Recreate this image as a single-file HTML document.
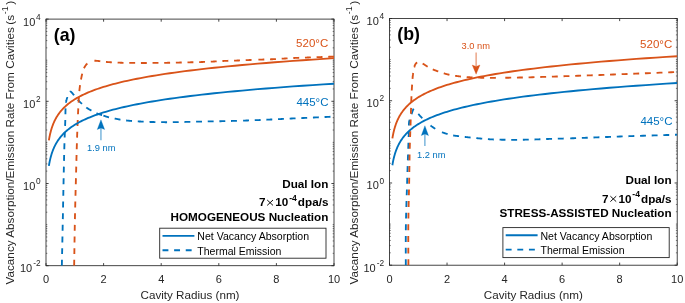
<!DOCTYPE html><html><head><meta charset="utf-8"><style>html,body{margin:0;padding:0;background:#fff;}svg{display:block;filter:blur(0.35px)}</style></head><body>
<svg width="685" height="303" viewBox="0 0 685 303" font-family='"Liberation Sans", sans-serif'>
<rect width="685" height="303" fill="#fff"/>
<clipPath id="ca"><rect x="46.0" y="19.1" width="288.0" height="246.6"/></clipPath>
<clipPath id="cb"><rect x="389.5" y="18.5" width="287.70000000000005" height="246.7"/></clipPath>
<g stroke="#262626" stroke-width="0.85" fill="none"><line x1="46.00" y1="265.7" x2="46.00" y2="263.09999999999997"/><line x1="46.00" y1="19.1" x2="46.00" y2="21.700000000000003"/><line x1="103.60" y1="265.7" x2="103.60" y2="263.09999999999997"/><line x1="103.60" y1="19.1" x2="103.60" y2="21.700000000000003"/><line x1="161.20" y1="265.7" x2="161.20" y2="263.09999999999997"/><line x1="161.20" y1="19.1" x2="161.20" y2="21.700000000000003"/><line x1="218.80" y1="265.7" x2="218.80" y2="263.09999999999997"/><line x1="218.80" y1="19.1" x2="218.80" y2="21.700000000000003"/><line x1="276.40" y1="265.7" x2="276.40" y2="263.09999999999997"/><line x1="276.40" y1="19.1" x2="276.40" y2="21.700000000000003"/><line x1="334.00" y1="265.7" x2="334.00" y2="263.09999999999997"/><line x1="334.00" y1="19.1" x2="334.00" y2="21.700000000000003"/><line x1="46.0" y1="265.70" x2="48.6" y2="265.70"/><line x1="334.0" y1="265.70" x2="331.4" y2="265.70"/><line x1="46.0" y1="183.50" x2="48.6" y2="183.50"/><line x1="334.0" y1="183.50" x2="331.4" y2="183.50"/><line x1="46.0" y1="101.30" x2="48.6" y2="101.30"/><line x1="334.0" y1="101.30" x2="331.4" y2="101.30"/><line x1="46.0" y1="19.10" x2="48.6" y2="19.10"/><line x1="334.0" y1="19.10" x2="331.4" y2="19.10"/><g stroke-width="0.6"><line x1="46.0" y1="253.33" x2="47.3" y2="253.33"/><line x1="334.0" y1="253.33" x2="332.7" y2="253.33"/><line x1="46.0" y1="246.09" x2="47.3" y2="246.09"/><line x1="334.0" y1="246.09" x2="332.7" y2="246.09"/><line x1="46.0" y1="240.96" x2="47.3" y2="240.96"/><line x1="334.0" y1="240.96" x2="332.7" y2="240.96"/><line x1="46.0" y1="236.97" x2="47.3" y2="236.97"/><line x1="334.0" y1="236.97" x2="332.7" y2="236.97"/><line x1="46.0" y1="233.72" x2="47.3" y2="233.72"/><line x1="334.0" y1="233.72" x2="332.7" y2="233.72"/><line x1="46.0" y1="230.97" x2="47.3" y2="230.97"/><line x1="334.0" y1="230.97" x2="332.7" y2="230.97"/><line x1="46.0" y1="228.58" x2="47.3" y2="228.58"/><line x1="334.0" y1="228.58" x2="332.7" y2="228.58"/><line x1="46.0" y1="226.48" x2="47.3" y2="226.48"/><line x1="334.0" y1="226.48" x2="332.7" y2="226.48"/><line x1="46.0" y1="224.60" x2="47.3" y2="224.60"/><line x1="334.0" y1="224.60" x2="332.7" y2="224.60"/><line x1="46.0" y1="212.23" x2="47.3" y2="212.23"/><line x1="334.0" y1="212.23" x2="332.7" y2="212.23"/><line x1="46.0" y1="204.99" x2="47.3" y2="204.99"/><line x1="334.0" y1="204.99" x2="332.7" y2="204.99"/><line x1="46.0" y1="199.86" x2="47.3" y2="199.86"/><line x1="334.0" y1="199.86" x2="332.7" y2="199.86"/><line x1="46.0" y1="195.87" x2="47.3" y2="195.87"/><line x1="334.0" y1="195.87" x2="332.7" y2="195.87"/><line x1="46.0" y1="192.62" x2="47.3" y2="192.62"/><line x1="334.0" y1="192.62" x2="332.7" y2="192.62"/><line x1="46.0" y1="189.87" x2="47.3" y2="189.87"/><line x1="334.0" y1="189.87" x2="332.7" y2="189.87"/><line x1="46.0" y1="187.48" x2="47.3" y2="187.48"/><line x1="334.0" y1="187.48" x2="332.7" y2="187.48"/><line x1="46.0" y1="185.38" x2="47.3" y2="185.38"/><line x1="334.0" y1="185.38" x2="332.7" y2="185.38"/><line x1="46.0" y1="171.13" x2="47.3" y2="171.13"/><line x1="334.0" y1="171.13" x2="332.7" y2="171.13"/><line x1="46.0" y1="163.89" x2="47.3" y2="163.89"/><line x1="334.0" y1="163.89" x2="332.7" y2="163.89"/><line x1="46.0" y1="158.76" x2="47.3" y2="158.76"/><line x1="334.0" y1="158.76" x2="332.7" y2="158.76"/><line x1="46.0" y1="154.77" x2="47.3" y2="154.77"/><line x1="334.0" y1="154.77" x2="332.7" y2="154.77"/><line x1="46.0" y1="151.52" x2="47.3" y2="151.52"/><line x1="334.0" y1="151.52" x2="332.7" y2="151.52"/><line x1="46.0" y1="148.77" x2="47.3" y2="148.77"/><line x1="334.0" y1="148.77" x2="332.7" y2="148.77"/><line x1="46.0" y1="146.38" x2="47.3" y2="146.38"/><line x1="334.0" y1="146.38" x2="332.7" y2="146.38"/><line x1="46.0" y1="144.28" x2="47.3" y2="144.28"/><line x1="334.0" y1="144.28" x2="332.7" y2="144.28"/><line x1="46.0" y1="142.40" x2="47.3" y2="142.40"/><line x1="334.0" y1="142.40" x2="332.7" y2="142.40"/><line x1="46.0" y1="130.03" x2="47.3" y2="130.03"/><line x1="334.0" y1="130.03" x2="332.7" y2="130.03"/><line x1="46.0" y1="122.79" x2="47.3" y2="122.79"/><line x1="334.0" y1="122.79" x2="332.7" y2="122.79"/><line x1="46.0" y1="117.66" x2="47.3" y2="117.66"/><line x1="334.0" y1="117.66" x2="332.7" y2="117.66"/><line x1="46.0" y1="113.67" x2="47.3" y2="113.67"/><line x1="334.0" y1="113.67" x2="332.7" y2="113.67"/><line x1="46.0" y1="110.42" x2="47.3" y2="110.42"/><line x1="334.0" y1="110.42" x2="332.7" y2="110.42"/><line x1="46.0" y1="107.67" x2="47.3" y2="107.67"/><line x1="334.0" y1="107.67" x2="332.7" y2="107.67"/><line x1="46.0" y1="105.28" x2="47.3" y2="105.28"/><line x1="334.0" y1="105.28" x2="332.7" y2="105.28"/><line x1="46.0" y1="103.18" x2="47.3" y2="103.18"/><line x1="334.0" y1="103.18" x2="332.7" y2="103.18"/><line x1="46.0" y1="88.93" x2="47.3" y2="88.93"/><line x1="334.0" y1="88.93" x2="332.7" y2="88.93"/><line x1="46.0" y1="81.69" x2="47.3" y2="81.69"/><line x1="334.0" y1="81.69" x2="332.7" y2="81.69"/><line x1="46.0" y1="76.56" x2="47.3" y2="76.56"/><line x1="334.0" y1="76.56" x2="332.7" y2="76.56"/><line x1="46.0" y1="72.57" x2="47.3" y2="72.57"/><line x1="334.0" y1="72.57" x2="332.7" y2="72.57"/><line x1="46.0" y1="69.32" x2="47.3" y2="69.32"/><line x1="334.0" y1="69.32" x2="332.7" y2="69.32"/><line x1="46.0" y1="66.57" x2="47.3" y2="66.57"/><line x1="334.0" y1="66.57" x2="332.7" y2="66.57"/><line x1="46.0" y1="64.18" x2="47.3" y2="64.18"/><line x1="334.0" y1="64.18" x2="332.7" y2="64.18"/><line x1="46.0" y1="62.08" x2="47.3" y2="62.08"/><line x1="334.0" y1="62.08" x2="332.7" y2="62.08"/><line x1="46.0" y1="60.20" x2="47.3" y2="60.20"/><line x1="334.0" y1="60.20" x2="332.7" y2="60.20"/><line x1="46.0" y1="47.83" x2="47.3" y2="47.83"/><line x1="334.0" y1="47.83" x2="332.7" y2="47.83"/><line x1="46.0" y1="40.59" x2="47.3" y2="40.59"/><line x1="334.0" y1="40.59" x2="332.7" y2="40.59"/><line x1="46.0" y1="35.46" x2="47.3" y2="35.46"/><line x1="334.0" y1="35.46" x2="332.7" y2="35.46"/><line x1="46.0" y1="31.47" x2="47.3" y2="31.47"/><line x1="334.0" y1="31.47" x2="332.7" y2="31.47"/><line x1="46.0" y1="28.22" x2="47.3" y2="28.22"/><line x1="334.0" y1="28.22" x2="332.7" y2="28.22"/><line x1="46.0" y1="25.47" x2="47.3" y2="25.47"/><line x1="334.0" y1="25.47" x2="332.7" y2="25.47"/><line x1="46.0" y1="23.08" x2="47.3" y2="23.08"/><line x1="334.0" y1="23.08" x2="332.7" y2="23.08"/><line x1="46.0" y1="20.98" x2="47.3" y2="20.98"/><line x1="334.0" y1="20.98" x2="332.7" y2="20.98"/></g><rect x="46.0" y="19.1" width="288.00" height="246.60"/></g>
<g stroke="#262626" stroke-width="0.85" fill="none"><line x1="389.50" y1="265.2" x2="389.50" y2="262.59999999999997"/><line x1="389.50" y1="18.5" x2="389.50" y2="21.1"/><line x1="447.04" y1="265.2" x2="447.04" y2="262.59999999999997"/><line x1="447.04" y1="18.5" x2="447.04" y2="21.1"/><line x1="504.58" y1="265.2" x2="504.58" y2="262.59999999999997"/><line x1="504.58" y1="18.5" x2="504.58" y2="21.1"/><line x1="562.12" y1="265.2" x2="562.12" y2="262.59999999999997"/><line x1="562.12" y1="18.5" x2="562.12" y2="21.1"/><line x1="619.66" y1="265.2" x2="619.66" y2="262.59999999999997"/><line x1="619.66" y1="18.5" x2="619.66" y2="21.1"/><line x1="677.20" y1="265.2" x2="677.20" y2="262.59999999999997"/><line x1="677.20" y1="18.5" x2="677.20" y2="21.1"/><line x1="389.5" y1="265.20" x2="392.1" y2="265.20"/><line x1="677.2" y1="265.20" x2="674.6" y2="265.20"/><line x1="389.5" y1="182.97" x2="392.1" y2="182.97"/><line x1="677.2" y1="182.97" x2="674.6" y2="182.97"/><line x1="389.5" y1="100.73" x2="392.1" y2="100.73"/><line x1="677.2" y1="100.73" x2="674.6" y2="100.73"/><line x1="389.5" y1="18.50" x2="392.1" y2="18.50"/><line x1="677.2" y1="18.50" x2="674.6" y2="18.50"/><g stroke-width="0.6"><line x1="389.5" y1="252.82" x2="390.8" y2="252.82"/><line x1="677.2" y1="252.82" x2="675.9000000000001" y2="252.82"/><line x1="389.5" y1="245.58" x2="390.8" y2="245.58"/><line x1="677.2" y1="245.58" x2="675.9000000000001" y2="245.58"/><line x1="389.5" y1="240.45" x2="390.8" y2="240.45"/><line x1="677.2" y1="240.45" x2="675.9000000000001" y2="240.45"/><line x1="389.5" y1="236.46" x2="390.8" y2="236.46"/><line x1="677.2" y1="236.46" x2="675.9000000000001" y2="236.46"/><line x1="389.5" y1="233.21" x2="390.8" y2="233.21"/><line x1="677.2" y1="233.21" x2="675.9000000000001" y2="233.21"/><line x1="389.5" y1="230.45" x2="390.8" y2="230.45"/><line x1="677.2" y1="230.45" x2="675.9000000000001" y2="230.45"/><line x1="389.5" y1="228.07" x2="390.8" y2="228.07"/><line x1="677.2" y1="228.07" x2="675.9000000000001" y2="228.07"/><line x1="389.5" y1="225.96" x2="390.8" y2="225.96"/><line x1="677.2" y1="225.96" x2="675.9000000000001" y2="225.96"/><line x1="389.5" y1="224.08" x2="390.8" y2="224.08"/><line x1="677.2" y1="224.08" x2="675.9000000000001" y2="224.08"/><line x1="389.5" y1="211.71" x2="390.8" y2="211.71"/><line x1="677.2" y1="211.71" x2="675.9000000000001" y2="211.71"/><line x1="389.5" y1="204.47" x2="390.8" y2="204.47"/><line x1="677.2" y1="204.47" x2="675.9000000000001" y2="204.47"/><line x1="389.5" y1="199.33" x2="390.8" y2="199.33"/><line x1="677.2" y1="199.33" x2="675.9000000000001" y2="199.33"/><line x1="389.5" y1="195.34" x2="390.8" y2="195.34"/><line x1="677.2" y1="195.34" x2="675.9000000000001" y2="195.34"/><line x1="389.5" y1="192.09" x2="390.8" y2="192.09"/><line x1="677.2" y1="192.09" x2="675.9000000000001" y2="192.09"/><line x1="389.5" y1="189.34" x2="390.8" y2="189.34"/><line x1="677.2" y1="189.34" x2="675.9000000000001" y2="189.34"/><line x1="389.5" y1="186.95" x2="390.8" y2="186.95"/><line x1="677.2" y1="186.95" x2="675.9000000000001" y2="186.95"/><line x1="389.5" y1="184.85" x2="390.8" y2="184.85"/><line x1="677.2" y1="184.85" x2="675.9000000000001" y2="184.85"/><line x1="389.5" y1="170.59" x2="390.8" y2="170.59"/><line x1="677.2" y1="170.59" x2="675.9000000000001" y2="170.59"/><line x1="389.5" y1="163.35" x2="390.8" y2="163.35"/><line x1="677.2" y1="163.35" x2="675.9000000000001" y2="163.35"/><line x1="389.5" y1="158.21" x2="390.8" y2="158.21"/><line x1="677.2" y1="158.21" x2="675.9000000000001" y2="158.21"/><line x1="389.5" y1="154.23" x2="390.8" y2="154.23"/><line x1="677.2" y1="154.23" x2="675.9000000000001" y2="154.23"/><line x1="389.5" y1="150.97" x2="390.8" y2="150.97"/><line x1="677.2" y1="150.97" x2="675.9000000000001" y2="150.97"/><line x1="389.5" y1="148.22" x2="390.8" y2="148.22"/><line x1="677.2" y1="148.22" x2="675.9000000000001" y2="148.22"/><line x1="389.5" y1="145.83" x2="390.8" y2="145.83"/><line x1="677.2" y1="145.83" x2="675.9000000000001" y2="145.83"/><line x1="389.5" y1="143.73" x2="390.8" y2="143.73"/><line x1="677.2" y1="143.73" x2="675.9000000000001" y2="143.73"/><line x1="389.5" y1="141.85" x2="390.8" y2="141.85"/><line x1="677.2" y1="141.85" x2="675.9000000000001" y2="141.85"/><line x1="389.5" y1="129.47" x2="390.8" y2="129.47"/><line x1="677.2" y1="129.47" x2="675.9000000000001" y2="129.47"/><line x1="389.5" y1="122.23" x2="390.8" y2="122.23"/><line x1="677.2" y1="122.23" x2="675.9000000000001" y2="122.23"/><line x1="389.5" y1="117.10" x2="390.8" y2="117.10"/><line x1="677.2" y1="117.10" x2="675.9000000000001" y2="117.10"/><line x1="389.5" y1="113.11" x2="390.8" y2="113.11"/><line x1="677.2" y1="113.11" x2="675.9000000000001" y2="113.11"/><line x1="389.5" y1="109.86" x2="390.8" y2="109.86"/><line x1="677.2" y1="109.86" x2="675.9000000000001" y2="109.86"/><line x1="389.5" y1="107.10" x2="390.8" y2="107.10"/><line x1="677.2" y1="107.10" x2="675.9000000000001" y2="107.10"/><line x1="389.5" y1="104.72" x2="390.8" y2="104.72"/><line x1="677.2" y1="104.72" x2="675.9000000000001" y2="104.72"/><line x1="389.5" y1="102.61" x2="390.8" y2="102.61"/><line x1="677.2" y1="102.61" x2="675.9000000000001" y2="102.61"/><line x1="389.5" y1="88.36" x2="390.8" y2="88.36"/><line x1="677.2" y1="88.36" x2="675.9000000000001" y2="88.36"/><line x1="389.5" y1="81.12" x2="390.8" y2="81.12"/><line x1="677.2" y1="81.12" x2="675.9000000000001" y2="81.12"/><line x1="389.5" y1="75.98" x2="390.8" y2="75.98"/><line x1="677.2" y1="75.98" x2="675.9000000000001" y2="75.98"/><line x1="389.5" y1="71.99" x2="390.8" y2="71.99"/><line x1="677.2" y1="71.99" x2="675.9000000000001" y2="71.99"/><line x1="389.5" y1="68.74" x2="390.8" y2="68.74"/><line x1="677.2" y1="68.74" x2="675.9000000000001" y2="68.74"/><line x1="389.5" y1="65.99" x2="390.8" y2="65.99"/><line x1="677.2" y1="65.99" x2="675.9000000000001" y2="65.99"/><line x1="389.5" y1="63.60" x2="390.8" y2="63.60"/><line x1="677.2" y1="63.60" x2="675.9000000000001" y2="63.60"/><line x1="389.5" y1="61.50" x2="390.8" y2="61.50"/><line x1="677.2" y1="61.50" x2="675.9000000000001" y2="61.50"/><line x1="389.5" y1="59.62" x2="390.8" y2="59.62"/><line x1="677.2" y1="59.62" x2="675.9000000000001" y2="59.62"/><line x1="389.5" y1="47.24" x2="390.8" y2="47.24"/><line x1="677.2" y1="47.24" x2="675.9000000000001" y2="47.24"/><line x1="389.5" y1="40.00" x2="390.8" y2="40.00"/><line x1="677.2" y1="40.00" x2="675.9000000000001" y2="40.00"/><line x1="389.5" y1="34.86" x2="390.8" y2="34.86"/><line x1="677.2" y1="34.86" x2="675.9000000000001" y2="34.86"/><line x1="389.5" y1="30.88" x2="390.8" y2="30.88"/><line x1="677.2" y1="30.88" x2="675.9000000000001" y2="30.88"/><line x1="389.5" y1="27.62" x2="390.8" y2="27.62"/><line x1="677.2" y1="27.62" x2="675.9000000000001" y2="27.62"/><line x1="389.5" y1="24.87" x2="390.8" y2="24.87"/><line x1="677.2" y1="24.87" x2="675.9000000000001" y2="24.87"/><line x1="389.5" y1="22.48" x2="390.8" y2="22.48"/><line x1="677.2" y1="22.48" x2="675.9000000000001" y2="22.48"/><line x1="389.5" y1="20.38" x2="390.8" y2="20.38"/><line x1="677.2" y1="20.38" x2="675.9000000000001" y2="20.38"/></g><rect x="389.5" y="18.5" width="287.70" height="246.70"/></g>
<g clip-path="url(#ca)">
<path d="M61.85,265.70 L61.87,264.79 L61.89,263.75 L61.92,262.59 L61.94,261.32 L61.97,259.95 L61.97,259.80 M62.09,254.05 L62.10,253.61 L62.14,251.84 L62.18,250.03 L62.22,248.16 L62.22,248.15 M62.34,242.41 L62.34,242.37 L62.38,240.39 L62.42,238.41 L62.46,236.51 M62.58,230.76 L62.59,230.57 L62.62,228.67 L62.66,226.81 L62.70,225.00 L62.70,224.86 M62.82,219.11 L62.85,217.63 L62.89,215.73 L62.92,213.82 L62.94,213.21 M63.05,207.46 L63.08,206.05 L63.11,204.10 L63.15,202.14 L63.16,201.56 M63.28,195.81 L63.31,194.42 L63.34,192.52 L63.38,190.65 L63.40,189.92 M63.51,184.17 L63.53,183.41 L63.56,181.69 L63.60,180.00 L63.64,178.34 L63.64,178.27 M63.76,172.52 L63.77,171.88 L63.80,170.31 L63.84,168.76 L63.87,167.22 L63.88,166.62 M64.01,160.87 L64.03,159.80 L64.06,158.37 L64.10,156.95 L64.13,155.56 L64.14,154.97 M64.29,149.23 L64.30,148.83 L64.33,147.53 L64.36,146.26 L64.40,145.00 L64.44,143.75 L64.45,143.33 M64.64,137.58 L64.68,136.52 L64.72,135.37 L64.76,134.23 L64.80,133.11 L64.85,132.02 L64.86,131.69 M65.08,125.94 L65.09,125.89 L65.12,124.96 L65.16,124.06 L65.19,123.18 L65.22,122.34 L65.25,121.53 L65.28,120.75 L65.30,120.04 M65.42,114.29 L65.42,114.27 L65.42,113.91 L65.43,113.56 L65.43,113.23 L65.43,112.91 L65.44,112.59 L65.44,112.28 L65.45,111.97 L65.45,111.66 L65.46,111.35 L65.47,111.03 L65.48,110.70 L65.49,110.36 L65.50,110.00 L65.51,109.64 L65.53,109.28 L65.54,108.93 L65.56,108.58 L65.57,108.40 M65.98,102.66 L66.00,102.50 L66.04,102.24 L66.07,101.99 L66.12,101.75 L66.16,101.51 L66.20,101.28 L66.25,101.05 L66.29,100.83 L66.34,100.61 L66.39,100.40 L66.44,100.19 L66.49,99.98 L66.54,99.78 L66.60,99.58 L66.65,99.39 L66.70,99.19 L66.76,99.00 L66.81,98.81 L66.87,98.62 L66.92,98.43 L66.98,98.25 L67.04,98.06 L67.09,97.87 L67.15,97.69 L67.20,97.50 L67.25,97.31 L67.31,97.12 L67.36,96.94 L67.36,96.94 M69.84,91.83 L69.87,91.81 L69.94,91.76 L70.01,91.71 L70.09,91.67 L70.16,91.64 L70.23,91.62 L70.30,91.60 L70.37,91.59 L70.44,91.59 L70.51,91.59 L70.58,91.61 L70.65,91.63 L70.72,91.65 L70.79,91.69 L70.86,91.73 L70.92,91.77 L70.99,91.82 L71.06,91.87 L71.13,91.93 L71.20,91.99 L71.27,92.06 L71.34,92.13 L71.41,92.20 L71.48,92.27 L71.55,92.34 L71.63,92.42 L71.70,92.49 L71.77,92.57 L71.85,92.65 L71.92,92.72 L72.00,92.80 L72.07,92.87 L72.14,92.94 L72.21,93.01 L72.27,93.08 L72.33,93.15 L72.39,93.22 L72.45,93.29 L72.50,93.36 L72.56,93.43 L72.62,93.50 L72.68,93.58 L72.74,93.66 L72.81,93.75 L72.88,93.84 L72.96,93.94 L73.04,94.04 L73.13,94.16 L73.23,94.28 L73.33,94.41 L73.44,94.54 L73.57,94.69 L73.70,94.85 L73.84,95.02 L74.00,95.20 L74.06,95.27 M77.79,99.66 L77.91,99.80 L78.18,100.10 L78.45,100.40 L78.73,100.69 L79.00,100.98 L79.27,101.26 L79.53,101.53 L79.80,101.80 L80.07,102.06 L80.34,102.32 L80.62,102.59 L80.90,102.86 L81.19,103.12 L81.49,103.39 L81.78,103.65 L81.96,103.82 M86.40,107.47 L86.44,107.51 L86.70,107.70 L86.95,107.89 L87.20,108.06 L87.44,108.23 L87.68,108.40 L87.92,108.55 L88.15,108.71 L88.37,108.85 L88.60,108.99 L88.82,109.13 L89.04,109.26 L89.26,109.39 L89.48,109.51 L89.69,109.63 L89.90,109.75 L90.11,109.87 L90.32,109.99 L90.53,110.10 L90.74,110.21 L90.95,110.33 L91.16,110.44 L91.37,110.55 L91.41,110.57 M96.50,113.23 L96.67,113.30 L96.90,113.40 L97.14,113.50 L97.39,113.60 L97.64,113.69 L97.90,113.79 L98.17,113.89 L98.44,113.98 L98.71,114.08 L98.99,114.17 L99.27,114.27 L99.55,114.36 L99.83,114.46 L100.12,114.55 L100.40,114.64 L100.69,114.73 L100.97,114.82 L101.26,114.91 L101.54,115.00 L101.81,115.09 L102.07,115.17 M103.40,115.60 L103.40,115.60 L103.65,115.68 L103.89,115.76 L104.12,115.84 L104.35,115.92 L104.58,115.99 L104.80,116.07 L105.03,116.14 L105.24,116.22 L105.46,116.29 L105.68,116.36 L105.89,116.44 L106.11,116.51 L106.32,116.58 L106.53,116.65 L106.75,116.71 L106.97,116.78 L107.18,116.85 L107.41,116.91 L107.63,116.98 L107.85,117.05 L108.08,117.11 L108.32,117.17 L108.56,117.24 L108.80,117.30 L109.03,117.36 M114.67,118.49 L114.71,118.50 L114.96,118.55 L115.20,118.60 L115.43,118.65 L115.66,118.69 L115.88,118.74 L116.10,118.79 L116.31,118.83 L116.52,118.87 L116.72,118.92 L116.92,118.96 L117.12,119.00 L117.31,119.04 L117.51,119.08 L117.70,119.12 L117.89,119.17 L118.09,119.21 L118.28,119.25 L118.48,119.29 L118.68,119.32 L118.88,119.36 L119.09,119.40 L119.30,119.44 L119.52,119.48 L119.74,119.52 L119.97,119.56 L120.20,119.60 L120.44,119.64 L120.45,119.64 M126.15,120.45 L126.35,120.47 L126.60,120.50 L126.85,120.53 L127.09,120.56 L127.33,120.58 L127.56,120.61 L127.80,120.63 L128.03,120.66 L128.26,120.68 L128.49,120.70 L128.71,120.72 L128.94,120.74 L129.16,120.76 L129.38,120.78 L129.60,120.80 L129.83,120.82 L130.05,120.84 L130.27,120.86 L130.49,120.87 L130.72,120.89 L130.94,120.91 L131.17,120.93 L131.40,120.95 L131.63,120.96 L131.86,120.98 L132.02,120.99 M137.76,121.39 L138.00,121.40 L138.25,121.41 L138.49,121.43 L138.73,121.44 L138.97,121.46 L139.21,121.47 L139.45,121.48 L139.68,121.49 L139.92,121.51 L140.15,121.52 L140.39,121.53 L140.63,121.54 L140.87,121.56 L141.11,121.57 L141.35,121.58 L141.60,121.59 L141.85,121.60 L142.10,121.62 L142.36,121.63 L142.62,121.64 L142.88,121.65 L143.15,121.66 L143.43,121.68 L143.65,121.68 M149.50,121.93 L149.60,121.93 L149.97,121.94 L150.35,121.96 L150.75,121.97 L151.15,121.98 L151.57,121.99 L152.00,122.00 L152.45,122.01 L152.91,122.02 L153.40,122.03 L153.90,122.04 L154.42,122.05 L154.95,122.06 L155.40,122.07 M161.15,122.17 L161.20,122.17 L161.77,122.17 L162.34,122.18 L162.89,122.19 L163.44,122.19 L163.97,122.19 L164.49,122.20 L165.00,122.20 L165.50,122.20 L165.98,122.20 L166.46,122.20 L166.94,122.20 L167.05,122.20 M172.80,122.15 L173.23,122.14 L173.68,122.13 L174.13,122.13 L174.59,122.12 L175.05,122.11 L175.52,122.11 L176.00,122.10 L176.48,122.09 L176.96,122.09 L177.45,122.08 L177.94,122.07 L178.43,122.07 L178.70,122.06 M184.45,121.97 L184.47,121.97 L184.98,121.96 L185.48,121.95 L185.99,121.94 L186.49,121.93 L187.00,121.92 L187.50,121.91 L188.00,121.90 L188.49,121.89 L188.94,121.88 L189.38,121.87 L189.79,121.86 L190.19,121.85 L190.34,121.85 M196.09,121.69 L196.32,121.68 L196.96,121.67 L197.64,121.65 L198.37,121.64 L199.16,121.62 L200.00,121.60 L200.91,121.58 L201.87,121.56 L201.99,121.56 M207.74,121.45 L208.67,121.44 L209.93,121.41 L211.22,121.39 L212.54,121.37 L213.64,121.35 M219.39,121.24 L220.71,121.21 L222.08,121.19 L223.44,121.16 L224.79,121.13 L225.29,121.12 M231.03,120.97 L231.25,120.97 L232.50,120.93 L233.75,120.90 L235.00,120.86 L236.25,120.82 L236.93,120.80 M243.10,120.61 L243.75,120.59 L245.00,120.55 L246.25,120.51 L247.50,120.47 L248.75,120.42 L249.00,120.41 M254.74,120.20 L255.00,120.19 L256.25,120.15 L257.50,120.10 L258.75,120.05 L260.00,120.00 L260.64,119.97 M266.38,119.73 L267.17,119.69 L268.33,119.64 L269.48,119.59 L270.63,119.53 L271.79,119.48 L272.28,119.45 M278.02,119.17 L278.96,119.13 L280.23,119.06 L281.52,119.00 L282.84,118.94 L283.91,118.89 M289.66,118.62 L290.00,118.60 L291.60,118.53 L293.32,118.45 L295.13,118.37 L295.55,118.35 M301.29,118.08 L303.13,118.00 L305.26,117.90 L307.19,117.82 M312.93,117.56 L313.88,117.51 L316.00,117.42 L318.08,117.32 L318.83,117.29 M324.57,117.03 L325.77,116.97 L327.47,116.90 L329.05,116.82 L330.46,116.76" fill="none" stroke="#0072BD" stroke-width="1.85" stroke-linejoin="round"/>
<path d="M74.15,265.70 L74.17,264.67 L74.19,263.47 L74.21,262.14 L74.23,260.66 L74.24,259.80 M74.33,254.05 L74.34,253.64 L74.37,251.66 L74.40,249.61 L74.42,248.15 M74.51,242.40 L74.53,240.95 L74.57,238.73 L74.60,236.50 L74.60,236.50 M74.70,230.75 L74.71,229.93 L74.75,227.82 L74.79,225.75 L74.81,224.86 M74.92,219.11 L74.94,218.22 L74.97,216.47 L75.01,214.73 L75.05,213.21 M75.18,207.46 L75.21,206.24 L75.25,204.58 L75.29,202.93 L75.33,201.56 M75.48,195.81 L75.51,194.75 L75.55,193.12 L75.59,191.49 L75.64,189.92 M75.79,184.17 L75.81,183.32 L75.86,181.66 L75.90,180.00 L75.94,178.33 L75.95,178.27 M76.09,172.52 L76.12,171.49 L76.17,169.77 L76.21,168.03 L76.25,166.62 M76.40,160.88 L76.44,159.38 L76.48,157.66 L76.53,155.96 L76.56,154.98 M76.72,149.23 L76.76,147.68 L76.81,146.09 L76.86,144.52 L76.89,143.33 M77.08,137.59 L77.10,137.12 L77.14,135.71 L77.19,134.31 L77.24,132.93 L77.29,131.69 M77.50,125.94 L77.54,125.03 L77.59,123.77 L77.64,122.54 L77.69,121.31 L77.74,120.11 L77.74,120.05 M77.99,114.30 L78.04,113.22 L78.10,112.13 L78.15,111.06 L78.20,110.00 L78.25,108.96 L78.28,108.41 M78.56,102.67 L78.59,102.27 L78.63,101.39 L78.68,100.52 L78.73,99.67 L78.78,98.83 L78.82,98.01 L78.88,97.20 L78.90,96.78 M79.35,91.05 L79.42,90.33 L79.50,89.60 L79.58,88.88 L79.66,88.16 L79.75,87.46 L79.83,86.77 L79.92,86.08 L80.02,85.41 L80.05,85.19 M80.99,79.51 L81.04,79.23 L81.15,78.67 L81.26,78.12 L81.37,77.59 L81.48,77.07 L81.58,76.56 L81.69,76.06 L81.80,75.57 L81.90,75.10 L82.00,74.64 L82.11,74.20 L82.21,73.77 L82.21,73.74 M83.97,68.28 L83.98,68.26 L84.11,67.99 L84.23,67.73 L84.36,67.46 L84.50,67.20 L84.64,66.94 L84.78,66.69 L84.93,66.44 L85.09,66.19 L85.24,65.96 L85.40,65.72 L85.56,65.50 L85.73,65.28 L85.90,65.06 L86.07,64.85 L86.24,64.65 L86.41,64.45 L86.59,64.26 L86.76,64.07 L86.94,63.89 L87.11,63.71 L87.29,63.54 L87.35,63.49 M94.40,60.75 L94.44,60.75 L94.59,60.75 L94.74,60.74 L94.90,60.74 L95.07,60.75 L95.24,60.75 L95.41,60.75 L95.59,60.76 L95.78,60.77 L95.98,60.78 L96.19,60.79 L96.40,60.80 L96.62,60.81 L96.86,60.83 L97.10,60.85 L97.34,60.88 L97.60,60.90 L97.86,60.93 L98.13,60.97 L98.40,61.00 L98.68,61.04 L98.96,61.07 L99.24,61.11 L99.53,61.15 L99.82,61.19 L100.11,61.23 L100.27,61.25 M105.98,61.91 L106.06,61.92 L106.32,61.94 L106.58,61.97 L106.85,61.99 L107.12,62.01 L107.40,62.04 L107.68,62.06 L107.98,62.08 L108.28,62.11 L108.59,62.13 L108.92,62.15 L109.25,62.18 L109.60,62.20 L109.96,62.22 L110.34,62.25 L110.72,62.27 L111.12,62.29 L111.54,62.32 L111.87,62.33 M117.61,62.61 L117.83,62.62 L118.28,62.64 L118.72,62.65 L119.16,62.67 L119.58,62.68 L120.00,62.70 L120.39,62.71 L120.75,62.73 L121.08,62.74 L121.38,62.75 L121.66,62.76 L121.92,62.78 L122.18,62.79 L122.42,62.80 L122.67,62.81 L122.91,62.81 L123.17,62.82 L123.44,62.83 L123.51,62.83 M129.26,62.90 L129.40,62.90 L130.27,62.90 L131.21,62.91 L132.21,62.91 L133.28,62.92 L134.40,62.92 L135.16,62.93 M140.90,62.95 L142.03,62.95 L143.41,62.95 L144.81,62.95 L146.22,62.95 L146.80,62.95 M152.55,62.94 L153.30,62.94 L154.69,62.94 L156.06,62.93 L157.40,62.92 L158.45,62.91 M164.20,62.85 L165.24,62.83 L166.60,62.81 L167.96,62.79 L169.34,62.76 L170.10,62.75 M175.85,62.63 L176.16,62.62 L177.49,62.59 L178.81,62.56 L180.09,62.53 L181.36,62.50 L181.75,62.49 M187.49,62.36 L188.13,62.34 L189.09,62.32 L190.00,62.30 L190.84,62.28 L191.63,62.27 L192.36,62.25 L193.04,62.23 L193.39,62.23 M199.14,62.09 L199.42,62.08 L199.81,62.07 L200.21,62.06 L200.62,62.05 L201.06,62.03 L201.51,62.02 L202.00,62.00 L202.50,61.98 L203.00,61.97 L203.51,61.95 L204.01,61.93 L204.52,61.91 L205.02,61.89 L205.04,61.89 M210.78,61.65 L211.07,61.64 L211.57,61.61 L212.06,61.59 L212.55,61.57 L213.04,61.55 L213.52,61.52 L214.00,61.50 L214.48,61.48 L214.95,61.45 L215.41,61.43 L215.87,61.40 L216.32,61.38 L216.68,61.36 M222.42,61.02 L222.59,61.01 L223.06,60.99 L223.54,60.97 L224.02,60.94 L224.50,60.92 L225.00,60.90 L225.50,60.88 L226.02,60.86 L226.54,60.84 L227.06,60.82 L227.59,60.81 L228.13,60.79 L228.31,60.78 M234.06,60.62 L234.22,60.62 L234.77,60.60 L235.32,60.59 L235.87,60.57 L236.41,60.55 L236.95,60.54 L237.48,60.52 L238.00,60.50 L238.52,60.48 L239.04,60.46 L239.55,60.44 L239.96,60.43 M245.70,60.18 L246.11,60.16 L246.60,60.14 L247.09,60.12 L247.58,60.10 L248.07,60.08 L248.55,60.06 L249.04,60.04 L249.52,60.02 L250.00,60.00 L250.48,59.98 L250.95,59.96 L251.42,59.95 L251.59,59.94 M258.40,59.69 L258.66,59.68 L259.12,59.67 L259.58,59.65 L260.05,59.63 L260.52,59.62 L261.00,59.60 L261.48,59.58 L261.96,59.57 L262.45,59.55 L262.94,59.54 L263.43,59.52 L263.93,59.51 L264.30,59.50 M270.04,59.32 L270.48,59.30 L270.99,59.28 L271.49,59.26 L272.00,59.24 L272.50,59.22 L273.00,59.20 L273.50,59.18 L274.00,59.15 L274.51,59.13 L275.01,59.10 L275.52,59.07 L275.94,59.05 M281.68,58.70 L282.07,58.68 L282.57,58.64 L283.06,58.61 L283.55,58.58 L284.04,58.56 L284.52,58.53 L285.00,58.50 L285.48,58.47 L285.95,58.45 L286.42,58.42 L286.88,58.39 L287.34,58.37 L287.57,58.35 M293.31,58.03 L293.66,58.01 L294.12,57.99 L294.58,57.96 L295.05,57.94 L295.52,57.92 L296.00,57.90 L296.47,57.88 L296.92,57.86 L297.36,57.84 L297.78,57.83 L298.19,57.81 L298.60,57.80 L299.01,57.78 L299.20,57.78 M304.95,57.60 L305.18,57.59 L305.82,57.57 L306.51,57.55 L307.23,57.53 L308.00,57.50 L308.84,57.47 L309.76,57.44 L310.76,57.41 L310.85,57.40 M316.59,57.20 L317.87,57.16 L319.16,57.11 L320.45,57.07 L321.75,57.02 L322.49,57.00 M328.24,56.80 L329.00,56.77 L330.04,56.74 L331.01,56.70 L331.90,56.67 L332.70,56.65 L333.40,56.62 L334.00,56.60" fill="none" stroke="#D95319" stroke-width="1.85" stroke-linejoin="round"/>
<path d="M48.88,165.90 L48.99,165.22 L49.11,164.53 L49.23,163.85 L49.36,163.16 L49.49,162.48 L49.63,161.79 L49.77,161.11 L49.91,160.42 L50.07,159.74 L50.23,159.05 L50.39,158.37 L50.56,157.68 L50.74,157.00 L50.93,156.31 L51.12,155.63 L51.32,154.94 L51.53,154.26 L51.75,153.57 L51.97,152.89 L52.20,152.20 L52.45,151.52 L52.70,150.83 L52.96,150.15 L53.23,149.46 L53.52,148.78 L53.81,148.09 L54.12,147.41 L54.43,146.72 L54.76,146.04 L55.11,145.35 L55.46,144.67 L55.83,143.98 L56.22,143.30 L56.62,142.61 L57.03,141.93 L57.47,141.24 L57.91,140.56 L58.38,139.87 L58.86,139.19 L59.37,138.50 L59.89,137.82 L60.43,137.13 L61.00,136.45 L61.59,135.76 L62.20,135.08 L62.83,134.39 L63.49,133.71 L64.17,133.02 L64.88,132.34 L65.62,131.65 L66.39,130.97 L67.19,130.28 L68.02,129.60 L68.88,128.91 L69.77,128.23 L70.70,127.54 L71.67,126.86 L72.67,126.17 L73.72,125.49 L74.80,124.80 L75.93,124.12 L77.10,123.43 L78.31,122.75 L79.58,122.06 L80.89,121.38 L82.26,120.69 L83.68,120.01 L85.15,119.32 L86.68,118.64 L88.27,117.95 L89.93,117.27 L91.64,116.58 L93.43,115.90 L95.29,115.21 L97.21,114.53 L99.22,113.84 L101.30,113.16 L103.46,112.47 L105.71,111.79 L108.05,111.10 L110.48,110.42 L113.00,109.73 L115.62,109.05 L118.34,108.36 L121.17,107.68 L124.11,106.99 L127.17,106.31 L130.34,105.62 L133.64,104.94 L137.07,104.25 L140.64,103.57 L144.34,102.88 L148.19,102.20 L152.18,101.51 L156.34,100.83 L160.65,100.14 L165.14,99.46 L169.80,98.77 L174.64,98.09 L179.68,97.40 L184.91,96.72 L190.34,96.03 L195.99,95.35 L201.86,94.66 L207.95,93.98 L214.29,93.29 L220.87,92.61 L227.72,91.92 L234.82,91.24 L242.21,90.55 L249.89,89.87 L257.86,89.18 L266.15,88.50 L274.77,87.81 L283.72,87.13 L293.02,86.44 L302.68,85.76 L312.72,85.07 L323.16,84.39 L334.00,83.70" fill="none" stroke="#0072BD" stroke-width="1.85" stroke-linejoin="round"/>
<path d="M48.88,140.38 L48.99,139.69 L49.11,139.01 L49.23,138.32 L49.36,137.64 L49.49,136.95 L49.63,136.27 L49.77,135.58 L49.91,134.90 L50.07,134.21 L50.23,133.53 L50.39,132.84 L50.56,132.16 L50.74,131.47 L50.93,130.79 L51.12,130.10 L51.32,129.42 L51.53,128.73 L51.75,128.05 L51.97,127.36 L52.20,126.68 L52.45,125.99 L52.70,125.31 L52.96,124.62 L53.23,123.94 L53.52,123.25 L53.81,122.57 L54.12,121.88 L54.43,121.20 L54.76,120.51 L55.11,119.83 L55.46,119.14 L55.83,118.46 L56.22,117.77 L56.62,117.09 L57.03,116.40 L57.47,115.72 L57.91,115.03 L58.38,114.35 L58.86,113.66 L59.37,112.98 L59.89,112.29 L60.43,111.61 L61.00,110.92 L61.59,110.24 L62.20,109.55 L62.83,108.87 L63.49,108.18 L64.17,107.50 L64.88,106.81 L65.62,106.13 L66.39,105.44 L67.19,104.76 L68.02,104.07 L68.88,103.39 L69.77,102.70 L70.70,102.02 L71.67,101.33 L72.67,100.65 L73.72,99.96 L74.80,99.28 L75.93,98.59 L77.10,97.91 L78.31,97.22 L79.58,96.54 L80.89,95.85 L82.26,95.17 L83.68,94.48 L85.15,93.80 L86.68,93.11 L88.27,92.43 L89.93,91.74 L91.64,91.06 L93.43,90.37 L95.29,89.69 L97.21,89.00 L99.22,88.32 L101.30,87.63 L103.46,86.95 L105.71,86.26 L108.05,85.58 L110.48,84.89 L113.00,84.21 L115.62,83.52 L118.34,82.84 L121.17,82.15 L124.11,81.47 L127.17,80.78 L130.34,80.10 L133.64,79.41 L137.07,78.73 L140.64,78.04 L144.34,77.36 L148.19,76.67 L152.18,75.99 L156.34,75.30 L160.65,74.62 L165.14,73.93 L169.80,73.25 L174.64,72.56 L179.68,71.88 L184.91,71.19 L190.34,70.51 L195.99,69.82 L201.86,69.14 L207.95,68.45 L214.29,67.77 L220.87,67.08 L227.72,66.40 L234.82,65.71 L242.21,65.03 L249.89,64.34 L257.86,63.66 L266.15,62.97 L274.77,62.29 L283.72,61.60 L293.02,60.92 L302.68,60.23 L312.72,59.55 L323.16,58.86 L334.00,58.18" fill="none" stroke="#D95319" stroke-width="1.85" stroke-linejoin="round"/>
</g>
<g clip-path="url(#cb)">
<path d="M405.80,265.20 L405.80,264.30 L405.80,263.27 L405.80,262.13 L405.80,260.88 L405.79,259.53 L405.79,259.30 M405.78,253.55 L405.78,253.28 L405.77,251.54 L405.77,249.75 L405.77,247.91 L405.77,247.65 M405.77,241.90 L405.77,240.24 L405.78,238.29 L405.79,236.33 L405.79,236.00 M405.83,230.25 L405.85,228.65 L405.87,226.80 L405.90,225.00 L405.91,224.35 M406.03,218.60 L406.05,217.60 L406.10,215.68 L406.15,213.74 L406.18,212.70 M406.34,206.96 L406.37,205.83 L406.43,203.84 L406.49,201.86 L406.52,201.06 M406.70,195.31 L406.74,194.07 L406.81,192.17 L406.87,190.31 L406.90,189.42 M407.08,183.67 L407.10,183.24 L407.15,181.59 L407.20,180.00 L407.25,178.45 L407.27,177.77 M407.45,172.02 L407.48,171.09 L407.53,169.70 L407.57,168.33 L407.62,166.99 L407.65,166.13 M407.84,160.38 L407.87,159.49 L407.91,158.33 L407.95,157.20 L407.99,156.09 L408.03,155.01 L408.05,154.48 M408.24,148.74 L408.26,148.22 L408.29,147.39 L408.31,146.60 L408.34,145.84 L408.36,145.12 L408.39,144.44 L408.41,143.78 L408.43,143.14 L408.44,142.84 M408.64,137.09 L408.65,136.63 L408.67,136.10 L408.68,135.56 L408.70,135.00 L408.72,134.44 L408.73,133.87 L408.74,133.31 L408.75,132.75 L408.76,132.18 L408.77,131.62 L408.78,131.20 M408.88,125.45 L408.88,125.44 L408.90,124.99 L408.91,124.56 L408.93,124.14 L408.95,123.75 L408.97,123.36 L409.00,123.00 L409.03,122.66 L409.06,122.33 L409.09,122.03 L409.12,121.75 L409.15,121.48 L409.19,121.23 L409.23,120.99 L409.26,120.77 L409.30,120.56 L409.34,120.35 L409.38,120.16 L409.43,119.98 L409.47,119.81 L409.51,119.64 L409.52,119.60 M411.53,114.22 L411.55,114.15 L411.61,114.01 L411.66,113.86 L411.71,113.71 L411.76,113.56 L411.81,113.42 L411.86,113.27 L411.90,113.12 L411.95,112.98 L412.00,112.83 L412.04,112.69 L412.09,112.54 L412.13,112.40 L412.18,112.26 L412.22,112.12 L412.26,111.99 L412.31,111.86 L412.35,111.72 L412.39,111.60 L412.43,111.47 L412.47,111.35 L412.52,111.23 L412.56,111.11 L412.60,111.00 L412.64,110.89 L412.68,110.78 L412.72,110.68 L412.76,110.58 L412.80,110.48 L412.84,110.38 L412.87,110.28 L412.91,110.19 L412.95,110.10 L412.98,110.01 L413.02,109.92 L413.06,109.84 L413.09,109.76 L413.13,109.68 L413.16,109.60 L413.20,109.52 L413.24,109.45 L413.27,109.38 L413.31,109.31 L413.35,109.24 L413.38,109.18 L413.42,109.12 L413.46,109.06 L413.50,109.00 L413.54,108.94 L413.58,108.89 L413.62,108.84 L413.66,108.78 L413.69,108.75 M418.30,113.90 L418.40,114.02 L418.58,114.24 L418.77,114.46 L418.97,114.69 L419.17,114.92 L419.38,115.16 L419.60,115.39 L419.82,115.64 L420.04,115.88 L420.27,116.12 L420.50,116.37 L420.74,116.62 L420.98,116.87 L421.22,117.12 L421.46,117.37 L421.71,117.62 L421.96,117.87 L422.20,118.12 L422.31,118.23 M430.50,125.44 L430.63,125.54 L430.91,125.76 L431.19,125.97 L431.47,126.18 L431.75,126.38 L432.03,126.59 L432.31,126.79 L432.59,126.99 L432.87,127.19 L433.15,127.39 L433.43,127.58 L433.71,127.77 L433.98,127.96 L434.26,128.14 L434.53,128.33 L434.81,128.50 L435.08,128.68 L435.32,128.84 M442.00,132.22 L442.20,132.30 L442.46,132.40 L442.73,132.50 L442.99,132.60 L443.27,132.70 L443.54,132.80 L443.82,132.90 L444.10,132.99 L444.39,133.09 L444.67,133.18 L444.95,133.27 L445.24,133.36 L445.53,133.45 L445.81,133.54 L446.09,133.62 L446.38,133.71 L446.66,133.79 L446.94,133.87 L447.22,133.95 L447.49,134.03 L447.60,134.07 M453.19,135.42 L453.29,135.44 L453.51,135.48 L453.74,135.52 L453.97,135.56 L454.20,135.60 L454.43,135.64 L454.66,135.67 L454.88,135.71 L455.09,135.74 L455.31,135.77 L455.52,135.80 L455.74,135.83 L455.95,135.85 L456.16,135.88 L456.38,135.90 L456.59,135.93 L456.81,135.95 L457.04,135.97 L457.27,136.00 L457.50,136.02 L457.74,136.05 L457.99,136.07 L458.25,136.10 L458.51,136.13 L458.79,136.16 L459.03,136.19 M464.74,136.91 L464.91,136.93 L465.33,136.98 L465.77,137.04 L466.23,137.09 L466.70,137.15 L467.19,137.20 L467.71,137.26 L468.24,137.32 L468.80,137.38 L469.39,137.44 L470.00,137.50 L470.60,137.56 M476.32,138.14 L476.77,138.19 L477.62,138.27 L478.49,138.36 L479.38,138.44 L480.26,138.53 L481.16,138.61 L482.06,138.69 L482.20,138.71 M487.93,139.17 L488.30,139.19 L489.16,139.25 L490.00,139.30 L490.83,139.35 L491.67,139.39 L492.50,139.43 L493.33,139.47 L493.82,139.49 M499.57,139.67 L500.00,139.68 L500.83,139.69 L501.67,139.71 L502.50,139.72 L503.33,139.73 L504.17,139.74 L505.00,139.75 L505.47,139.76 M511.22,139.81 L511.67,139.81 L512.50,139.81 L513.33,139.81 L514.17,139.81 L515.00,139.81 L515.83,139.81 L516.67,139.80 L517.12,139.80 M522.86,139.74 L523.33,139.73 L524.17,139.72 L525.00,139.70 L525.83,139.69 L526.67,139.67 L527.50,139.65 L528.33,139.64 L528.76,139.63 M534.51,139.47 L534.88,139.46 L535.68,139.43 L536.48,139.40 L537.28,139.37 L538.08,139.34 L538.88,139.31 L539.69,139.28 L540.41,139.25 M546.15,139.03 L546.38,139.02 L547.26,138.99 L548.16,138.96 L549.07,138.93 L550.00,138.90 L550.93,138.87 L551.84,138.84 L552.05,138.84 M557.80,138.69 L558.13,138.68 L559.05,138.66 L559.98,138.64 L560.94,138.61 L561.91,138.59 L562.91,138.56 L563.70,138.54 M570.20,138.36 L570.88,138.34 L572.20,138.29 L573.57,138.25 L575.00,138.20 L576.10,138.16 M581.84,137.95 L582.86,137.91 L584.56,137.85 L586.29,137.78 L587.74,137.72 M593.48,137.50 L593.59,137.49 L595.49,137.42 L597.42,137.34 L599.37,137.27 L599.38,137.27 M605.13,137.04 L605.38,137.03 L607.42,136.96 L609.48,136.88 L611.02,136.82 M616.77,136.61 L617.87,136.57 L620.00,136.50 L622.20,136.43 L622.66,136.41 M628.41,136.22 L629.49,136.18 L632.10,136.10 L634.31,136.03 M640.05,135.85 L640.28,135.84 L643.07,135.75 L645.86,135.67 L645.95,135.66 M651.70,135.48 L654.14,135.41 L656.80,135.33 L657.60,135.30 M663.34,135.13 L664.33,135.10 L666.64,135.03 L668.81,134.96 L669.24,134.95 M674.99,134.77 L675.90,134.74 L677.20,134.70" fill="none" stroke="#0072BD" stroke-width="1.85" stroke-linejoin="round"/>
<path d="M408.40,265.20 L408.40,264.30 L408.39,263.27 L408.39,262.13 L408.38,260.88 L408.37,259.53 L408.37,259.30 M408.33,253.55 L408.33,253.28 L408.31,251.54 L408.30,249.75 L408.29,247.91 L408.29,247.65 M408.27,241.90 L408.26,240.24 L408.26,238.29 L408.26,236.33 L408.26,236.00 M408.27,230.25 L408.27,228.65 L408.29,226.80 L408.30,225.00 L408.31,224.35 M408.38,218.60 L408.40,217.60 L408.43,215.68 L408.46,213.74 L408.48,212.70 M408.60,206.95 L408.62,205.83 L408.67,203.84 L408.71,201.86 L408.73,201.05 M408.86,195.31 L408.89,194.07 L408.94,192.17 L408.98,190.31 L409.00,189.41 M409.13,183.66 L409.14,183.24 L409.17,181.59 L409.20,180.00 L409.23,178.46 L409.24,177.76 M409.33,172.01 L409.34,171.38 L409.36,170.06 L409.38,168.78 L409.40,167.52 L409.42,166.28 L409.42,166.11 M409.50,160.36 L409.52,159.22 L409.54,158.08 L409.56,156.94 L409.58,155.80 L409.60,154.65 L409.60,154.46 M409.73,148.71 L409.76,147.60 L409.80,146.39 L409.83,145.16 L409.87,143.94 L409.91,142.82 M410.10,137.07 L410.11,136.63 L410.16,135.44 L410.20,134.26 L410.24,133.11 L410.28,131.97 L410.31,131.17 M410.52,125.43 L410.54,124.75 L410.57,123.85 L410.60,123.00 L410.63,122.19 L410.65,121.43 L410.67,120.72 L410.69,120.05 L410.71,119.53 M410.88,113.78 L410.89,113.52 L410.90,113.06 L410.92,112.60 L410.93,112.12 L410.95,111.62 L410.96,111.11 L410.98,110.57 L411.00,110.00 L411.02,109.41 L411.04,108.79 L411.06,108.17 L411.07,107.89 M411.25,102.14 L411.25,102.12 L411.27,101.45 L411.29,100.78 L411.32,100.13 L411.34,99.48 L411.36,98.85 L411.38,98.23 L411.40,97.64 L411.42,97.06 L411.44,96.51 L411.45,96.24 M411.73,90.50 L411.74,90.42 L411.76,90.19 L411.77,89.95 L411.79,89.70 L411.81,89.45 L411.82,89.19 L411.84,88.92 L411.86,88.63 L411.88,88.32 L411.90,88.00 L411.92,87.66 L411.94,87.31 L411.96,86.96 L411.99,86.59 L412.01,86.22 L412.03,85.84 L412.05,85.46 L412.08,85.07 L412.10,84.68 L412.11,84.61 M412.51,78.88 L412.53,78.67 L412.56,78.34 L412.59,78.01 L412.62,77.69 L412.65,77.37 L412.68,77.05 L412.72,76.74 L412.75,76.43 L412.78,76.12 L412.81,75.81 L412.85,75.51 L412.88,75.22 L412.92,74.93 L412.95,74.64 L412.98,74.35 L413.02,74.07 L413.05,73.80 L413.09,73.53 L413.12,73.26 L413.16,73.01 M414.23,67.37 L414.24,67.34 L414.28,67.19 L414.33,67.04 L414.37,66.89 L414.41,66.74 L414.45,66.59 L414.49,66.45 L414.54,66.31 L414.58,66.17 L414.62,66.04 L414.67,65.91 L414.71,65.77 L414.76,65.65 L414.80,65.52 L414.85,65.40 L414.90,65.28 L414.94,65.16 L414.99,65.04 L415.04,64.93 L415.09,64.82 L415.14,64.71 L415.19,64.60 L415.25,64.50 L415.30,64.40 L415.35,64.30 L415.41,64.21 L415.47,64.11 L415.52,64.02 L415.58,63.93 L415.64,63.85 L415.70,63.77 L415.76,63.69 L415.82,63.61 L415.89,63.53 L415.95,63.46 L416.01,63.39 L416.08,63.32 L416.14,63.25 L416.21,63.19 L416.27,63.13 L416.34,63.07 L416.40,63.01 L416.47,62.95 L416.53,62.90 L416.60,62.85 L416.67,62.80 L416.73,62.75 L416.80,62.70 L416.87,62.66 L416.93,62.61 L417.00,62.57 L417.07,62.53 L417.14,62.50 L417.19,62.47 M422.63,63.66 L422.74,63.71 L422.90,63.78 L423.06,63.86 L423.22,63.94 L423.38,64.02 L423.55,64.11 L423.72,64.20 L423.90,64.30 L424.08,64.40 L424.26,64.51 L424.44,64.62 L424.63,64.74 L424.82,64.86 L425.02,64.98 L425.21,65.11 L425.41,65.24 L425.61,65.38 L425.82,65.52 L426.03,65.66 L426.24,65.80 L426.45,65.94 L426.67,66.09 L426.89,66.23 L427.11,66.38 L427.34,66.52 L427.57,66.67 L427.66,66.73 M432.76,69.37 L432.83,69.40 L433.12,69.53 L433.42,69.65 L433.73,69.79 L434.05,69.92 L434.38,70.05 L434.71,70.18 L435.06,70.32 L435.43,70.46 L435.80,70.60 L436.19,70.74 L436.60,70.89 L437.02,71.05 L437.45,71.20 L437.90,71.36 L438.27,71.49 M443.73,73.29 L443.86,73.33 L444.37,73.49 L444.88,73.64 L445.38,73.78 L445.87,73.92 L446.35,74.05 L446.83,74.18 L447.30,74.30 L447.76,74.41 L448.21,74.52 L448.66,74.63 L449.11,74.73 L449.43,74.80 M455.09,75.80 L455.22,75.82 L455.67,75.89 L456.13,75.95 L456.59,76.01 L457.05,76.08 L457.52,76.14 L458.00,76.20 L458.48,76.26 L458.95,76.32 L459.42,76.38 L459.88,76.44 L460.35,76.49 L460.81,76.55 L460.94,76.56 M466.67,77.08 L466.75,77.09 L467.32,77.12 L467.90,77.16 L468.49,77.20 L469.11,77.23 L469.74,77.27 L470.40,77.30 L471.06,77.33 L471.72,77.37 L472.37,77.40 L472.56,77.41 M478.30,77.64 L478.47,77.65 L479.24,77.67 L480.02,77.69 L480.84,77.71 L481.69,77.73 L482.57,77.75 L483.50,77.76 L484.20,77.77 M489.95,77.80 L490.00,77.80 L491.25,77.80 L492.52,77.80 L493.82,77.80 L495.14,77.80 L495.85,77.79 M505.30,77.74 L506.85,77.72 L508.49,77.71 L510.17,77.69 L511.20,77.67 M516.95,77.58 L517.41,77.57 L519.36,77.54 L521.36,77.50 L522.85,77.47 M528.60,77.33 L530.00,77.30 L532.34,77.24 L534.49,77.18 M540.24,77.02 L542.50,76.95 L545.22,76.87 L546.14,76.84 M551.89,76.66 L553.74,76.60 L556.68,76.50 L557.78,76.47 M563.53,76.28 L565.73,76.20 L568.80,76.10 L569.43,76.08 M575.17,75.88 L578.15,75.78 L581.07,75.67 M586.82,75.47 L587.57,75.44 L590.70,75.33 L592.71,75.26 M598.46,75.06 L600.00,75.00 L603.14,74.89 L604.35,74.84 M610.00,74.63 L613.34,74.51 L615.90,74.41 M621.64,74.19 L624.32,74.09 L627.54,73.96 M633.28,73.74 L635.57,73.65 L639.18,73.51 M644.92,73.28 L646.60,73.21 L650.14,73.07 L650.82,73.05 M656.56,72.82 L656.92,72.80 L660.12,72.68 L662.46,72.58 M668.21,72.35 L668.72,72.33 L671.19,72.24 L673.45,72.15 L674.10,72.12" fill="none" stroke="#D95319" stroke-width="1.85" stroke-linejoin="round"/>
<path d="M392.38,165.23 L392.49,164.55 L392.61,163.86 L392.73,163.17 L392.85,162.49 L392.99,161.80 L393.12,161.12 L393.26,160.43 L393.41,159.75 L393.56,159.06 L393.72,158.38 L393.89,157.69 L394.06,157.01 L394.24,156.32 L394.42,155.64 L394.62,154.95 L394.82,154.27 L395.02,153.58 L395.24,152.90 L395.46,152.21 L395.70,151.52 L395.94,150.84 L396.19,150.15 L396.45,149.47 L396.73,148.78 L397.01,148.10 L397.30,147.41 L397.61,146.73 L397.93,146.04 L398.26,145.36 L398.60,144.67 L398.95,143.99 L399.32,143.30 L399.71,142.62 L400.11,141.93 L400.52,141.25 L400.95,140.56 L401.40,139.88 L401.87,139.19 L402.35,138.50 L402.85,137.82 L403.38,137.13 L403.92,136.45 L404.48,135.76 L405.07,135.08 L405.68,134.39 L406.31,133.71 L406.97,133.02 L407.65,132.34 L408.36,131.65 L409.10,130.97 L409.87,130.28 L410.66,129.60 L411.49,128.91 L412.35,128.23 L413.25,127.54 L414.18,126.85 L415.14,126.17 L416.14,125.48 L417.19,124.80 L418.27,124.11 L419.40,123.43 L420.57,122.74 L421.78,122.06 L423.04,121.37 L424.36,120.69 L425.72,120.00 L427.14,119.32 L428.61,118.63 L430.14,117.95 L431.73,117.26 L433.38,116.58 L435.10,115.89 L436.88,115.21 L438.73,114.52 L440.66,113.83 L442.66,113.15 L444.74,112.46 L446.90,111.78 L449.15,111.09 L451.48,110.41 L453.91,109.72 L456.43,109.04 L459.05,108.35 L461.77,107.67 L464.59,106.98 L467.53,106.30 L470.58,105.61 L473.76,104.93 L477.05,104.24 L480.48,103.56 L484.04,102.87 L487.74,102.18 L491.58,101.50 L495.57,100.81 L499.72,100.13 L504.04,99.44 L508.52,98.76 L513.17,98.07 L518.01,97.39 L523.04,96.70 L528.26,96.02 L533.69,95.33 L539.33,94.65 L545.19,93.96 L551.29,93.28 L557.62,92.59 L564.19,91.91 L571.03,91.22 L578.13,90.54 L585.51,89.85 L593.18,89.16 L601.14,88.48 L609.42,87.79 L618.03,87.11 L626.97,86.42 L636.26,85.74 L645.91,85.05 L655.94,84.37 L666.37,83.68 L677.20,83.00" fill="none" stroke="#0072BD" stroke-width="1.85" stroke-linejoin="round"/>
<path d="M392.38,138.45 L392.49,137.76 L392.61,137.08 L392.73,136.39 L392.85,135.71 L392.99,135.02 L393.12,134.33 L393.26,133.65 L393.41,132.96 L393.56,132.28 L393.72,131.59 L393.89,130.91 L394.06,130.22 L394.24,129.54 L394.42,128.85 L394.62,128.17 L394.82,127.48 L395.02,126.80 L395.24,126.11 L395.46,125.43 L395.70,124.74 L395.94,124.06 L396.19,123.37 L396.45,122.68 L396.73,122.00 L397.01,121.31 L397.30,120.63 L397.61,119.94 L397.93,119.26 L398.26,118.57 L398.60,117.89 L398.95,117.20 L399.32,116.52 L399.71,115.83 L400.11,115.15 L400.52,114.46 L400.95,113.78 L401.40,113.09 L401.87,112.41 L402.35,111.72 L402.85,111.04 L403.38,110.35 L403.92,109.66 L404.48,108.98 L405.07,108.29 L405.68,107.61 L406.31,106.92 L406.97,106.24 L407.65,105.55 L408.36,104.87 L409.10,104.18 L409.87,103.50 L410.66,102.81 L411.49,102.13 L412.35,101.44 L413.25,100.76 L414.18,100.07 L415.14,99.39 L416.14,98.70 L417.19,98.01 L418.27,97.33 L419.40,96.64 L420.57,95.96 L421.78,95.27 L423.04,94.59 L424.36,93.90 L425.72,93.22 L427.14,92.53 L428.61,91.85 L430.14,91.16 L431.73,90.48 L433.38,89.79 L435.10,89.11 L436.88,88.42 L438.73,87.74 L440.66,87.05 L442.66,86.37 L444.74,85.68 L446.90,84.99 L449.15,84.31 L451.48,83.62 L453.91,82.94 L456.43,82.25 L459.05,81.57 L461.77,80.88 L464.59,80.20 L467.53,79.51 L470.58,78.83 L473.76,78.14 L477.05,77.46 L480.48,76.77 L484.04,76.09 L487.74,75.40 L491.58,74.72 L495.57,74.03 L499.72,73.34 L504.04,72.66 L508.52,71.97 L513.17,71.29 L518.01,70.60 L523.04,69.92 L528.26,69.23 L533.69,68.55 L539.33,67.86 L545.19,67.18 L551.29,66.49 L557.62,65.81 L564.19,65.12 L571.03,64.44 L578.13,63.75 L585.51,63.07 L593.18,62.38 L601.14,61.70 L609.42,61.01 L618.03,60.32 L626.97,59.64 L636.26,58.95 L645.91,58.27 L655.94,57.58 L666.37,56.90 L677.20,56.21" fill="none" stroke="#D95319" stroke-width="1.85" stroke-linejoin="round"/>
</g>
<g fill="#262626" font-family='"Liberation Sans", sans-serif'><text x="46.00" y="283.30" text-anchor="middle" font-size="11">0</text><text x="103.60" y="283.30" text-anchor="middle" font-size="11">2</text><text x="161.20" y="283.30" text-anchor="middle" font-size="11">4</text><text x="218.80" y="283.30" text-anchor="middle" font-size="11">6</text><text x="276.40" y="283.30" text-anchor="middle" font-size="11">8</text><text x="334.00" y="283.30" text-anchor="middle" font-size="11">10</text><text x="40.70" y="266.40" text-anchor="end" font-size="8.3">-2</text><text x="32.20" y="272.15" text-anchor="end" font-size="11">10</text><text x="40.70" y="184.20" text-anchor="end" font-size="8.3">0</text><text x="35.30" y="189.95" text-anchor="end" font-size="11">10</text><text x="40.70" y="102.00" text-anchor="end" font-size="8.3">2</text><text x="35.30" y="107.75" text-anchor="end" font-size="11">10</text><text x="40.70" y="19.80" text-anchor="end" font-size="8.3">4</text><text x="35.30" y="25.55" text-anchor="end" font-size="11">10</text></g>
<g fill="#262626" font-family='"Liberation Sans", sans-serif'><text x="389.50" y="282.80" text-anchor="middle" font-size="11">0</text><text x="447.04" y="282.80" text-anchor="middle" font-size="11">2</text><text x="504.58" y="282.80" text-anchor="middle" font-size="11">4</text><text x="562.12" y="282.80" text-anchor="middle" font-size="11">6</text><text x="619.66" y="282.80" text-anchor="middle" font-size="11">8</text><text x="677.20" y="282.80" text-anchor="middle" font-size="11">10</text><text x="384.20" y="265.90" text-anchor="end" font-size="8.3">-2</text><text x="375.70" y="271.65" text-anchor="end" font-size="11">10</text><text x="384.20" y="183.67" text-anchor="end" font-size="8.3">0</text><text x="378.80" y="189.42" text-anchor="end" font-size="11">10</text><text x="384.20" y="101.43" text-anchor="end" font-size="8.3">2</text><text x="378.80" y="107.18" text-anchor="end" font-size="11">10</text><text x="384.20" y="19.20" text-anchor="end" font-size="8.3">4</text><text x="378.80" y="24.95" text-anchor="end" font-size="11">10</text></g>
<text x="190.0" y="299.0" text-anchor="middle" font-size="11.65" fill="#262626">Cavity Radius (nm)</text>
<text x="533.35" y="299.0" text-anchor="middle" font-size="11.65" fill="#262626">Cavity Radius (nm)</text>
<text transform="translate(13.90,284.50) rotate(-90)" font-size="11.74" fill="#262626">Vacancy Absorption/Emission Rate From Cavities</text><text transform="translate(13.90,24.75) rotate(-90)" font-size="11.74" fill="#262626">(s</text><text transform="translate(8.20,14.20) rotate(-90)" font-size="8.9" fill="#262626">-1</text><text transform="translate(13.90,4.80) rotate(-90)" font-size="11.74" fill="#262626">)</text>
<text transform="translate(357.90,284.50) rotate(-90)" font-size="11.74" fill="#262626">Vacancy Absorption/Emission Rate From Cavities</text><text transform="translate(357.90,24.75) rotate(-90)" font-size="11.74" fill="#262626">(s</text><text transform="translate(352.20,14.20) rotate(-90)" font-size="8.9" fill="#262626">-1</text><text transform="translate(357.90,4.80) rotate(-90)" font-size="11.74" fill="#262626">)</text>
<text x="53.8" y="40.5" font-size="17.8" font-weight="bold" fill="#000">(a)</text><text x="328.4" y="188.0" text-anchor="end" font-size="11.7" font-weight="bold" fill="#000">Dual Ion</text><text x="328.4" y="206.3" text-anchor="end" font-size="11.7" font-weight="bold" fill="#000">dpa/s</text><text x="296.79999999999995" y="200.60000000000002" text-anchor="end" font-size="8.6" font-weight="bold" fill="#000">-4</text><text x="288.2" y="206.3" text-anchor="end" font-size="11.7" font-weight="bold" fill="#000">10</text><path d="M267.20,200.00 L273.00,205.40 M267.20,205.40 L273.00,200.00" stroke="#000" stroke-width="0.95" fill="none"/><text x="265.4" y="206.3" text-anchor="end" font-size="11.7" font-weight="bold" fill="#000">7</text><text x="328.4" y="220.8" text-anchor="end" font-size="11.7" font-weight="bold" fill="#000">HOMOGENEOUS Nucleation</text><rect x="159.7" y="228.2" width="166.3" height="30.0" fill="#fff" stroke="#262626" stroke-width="0.9"/><line x1="162.5" y1="235.79999999999998" x2="194.39999999999998" y2="235.79999999999998" stroke="#0072BD" stroke-width="1.85"/><line x1="162.5" y1="250.2" x2="194.39999999999998" y2="250.2" stroke="#0072BD" stroke-width="1.85" stroke-dasharray="5.9 5.72"/><text x="197.29999999999998" y="240.39999999999998" font-size="10.55" fill="#000">Net Vacancy Absorption</text><text x="197.29999999999998" y="254.89999999999998" font-size="10.5" fill="#000">Thermal Emission</text>
<text x="397.25" y="39.5" font-size="17.8" font-weight="bold" fill="#000">(b)</text><text x="671.6" y="184.2" text-anchor="end" font-size="11.7" font-weight="bold" fill="#000">Dual Ion</text><text x="671.6" y="202.5" text-anchor="end" font-size="11.7" font-weight="bold" fill="#000">dpa/s</text><text x="640.0" y="196.8" text-anchor="end" font-size="8.6" font-weight="bold" fill="#000">-4</text><text x="631.4" y="202.5" text-anchor="end" font-size="11.7" font-weight="bold" fill="#000">10</text><path d="M610.40,196.20 L616.20,201.60 M610.40,201.60 L616.20,196.20" stroke="#000" stroke-width="0.95" fill="none"/><text x="608.6" y="202.5" text-anchor="end" font-size="11.7" font-weight="bold" fill="#000">7</text><text x="671.6" y="217.0" text-anchor="end" font-size="11.7" font-weight="bold" fill="#000">STRESS-ASSISTED Nucleation</text><rect x="502.90000000000003" y="227.6" width="166.3" height="30.0" fill="#fff" stroke="#262626" stroke-width="0.9"/><line x1="505.70000000000005" y1="235.2" x2="537.6" y2="235.2" stroke="#0072BD" stroke-width="1.85"/><line x1="505.70000000000005" y1="249.6" x2="537.6" y2="249.6" stroke="#0072BD" stroke-width="1.85" stroke-dasharray="5.9 5.72"/><text x="540.5" y="239.79999999999998" font-size="10.55" fill="#000">Net Vacancy Absorption</text><text x="540.5" y="254.29999999999998" font-size="10.5" fill="#000">Thermal Emission</text>
<text x="328.2" y="47" text-anchor="end" font-size="11.5" fill="#D95319">520°C</text>
<text x="328.5" y="105.8" text-anchor="end" font-size="11.5" fill="#0072BD">445°C</text>
<text x="672.2" y="48.4" text-anchor="end" font-size="11.5" fill="#D95319">520°C</text>
<text x="672.5" y="124.6" text-anchor="end" font-size="11.5" fill="#0072BD">445°C</text>
<line x1="100.95" y1="127.948" x2="100.95" y2="140.3" stroke="#0072BD" stroke-width="1.1" opacity="0.7"/><path d="M100.95,119.8 L97.25,129.5 L100.95,127.95 L104.65,129.5 Z" fill="#0072BD" stroke="#0072BD" stroke-width="0.3" stroke-linejoin="round"/>
<text x="101.2" y="151.3" text-anchor="middle" font-size="9.3" fill="#0072BD">1.9 nm</text>
<line x1="424.9" y1="134.016" x2="424.9" y2="146" stroke="#0072BD" stroke-width="1.1" opacity="0.7"/><path d="M424.9,125.7 L421.29999999999995,135.6 L424.9,134.02 L428.5,135.6 Z" fill="#0072BD" stroke="#0072BD" stroke-width="0.3" stroke-linejoin="round"/>
<text x="431.2" y="157.5" text-anchor="middle" font-size="9.3" fill="#0072BD">1.2 nm</text>
<line x1="476.1" y1="66.472" x2="476.1" y2="52.6" stroke="#D95319" stroke-width="1.1" opacity="0.7"/><path d="M476.1,74.2 L472.20000000000005,65.0 L476.1,66.47 L480.0,65.0 Z" fill="#D95319" stroke="#D95319" stroke-width="0.3" stroke-linejoin="round"/>
<text x="475.8" y="48.9" text-anchor="middle" font-size="9.3" fill="#D95319">3.0 nm</text>
</svg></body></html>
